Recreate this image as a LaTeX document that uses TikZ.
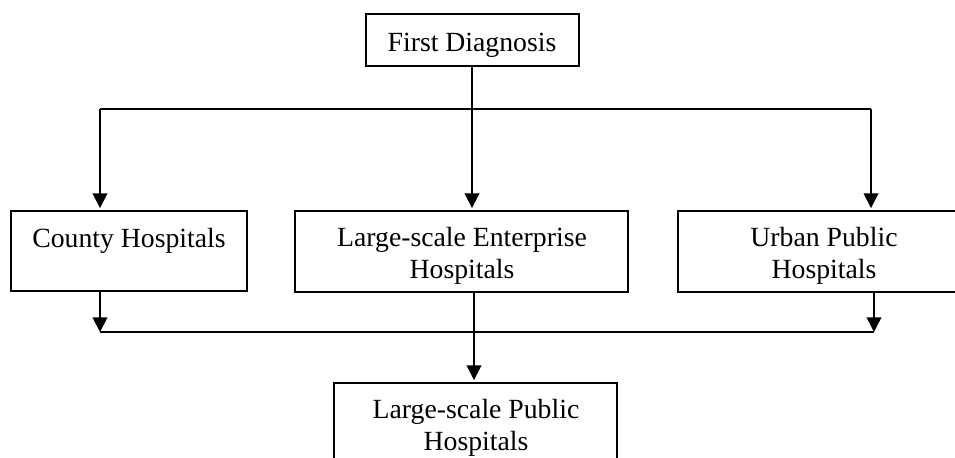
\documentclass[tikz,border=0pt]{standalone}
\usepackage{fontspec}
\setmainfont{Liberation Serif}
\usetikzlibrary{arrows.meta}
\begin{document}
\begin{tikzpicture}[x=0.75pt, y=-0.75pt,
  box/.style={draw, line width=1.3pt, inner sep=0pt, outer sep=0pt, anchor=north west},
  txt/.style={inner sep=0pt, outer sep=0pt, align=center, anchor=base,
    font=\fontsize{20.8}{23.6}\selectfont},
  link/.style={line width=1.3pt},
  arr/.style={link, -{Triangle[length=11pt, width=11pt]}, shorten >=2.2pt}]
  \useasboundingbox (0,0) rectangle (955,457);

  % boxes
  \node[box, minimum width=159.75pt, minimum height=39pt] (fd) at (366,14) {};
  \node[box, minimum width=177pt, minimum height=60pt] (county) at (11,211) {};
  \node[box, minimum width=249.75pt, minimum height=61pt] (enterprise) at (295,211) {};
  \node[box, minimum width=218.25pt, minimum height=60.75pt] (urban) at (678,211) {};
  \node[box, minimum width=212.25pt, minimum height=75pt] (public) at (334,383) {};

  % box texts (base anchor sits on the last line)
  \node[txt] (tfd) at (472,51) {First Diagnosis};
  \node[txt] (tcounty) at (129,247) {County Hospitals};
  \node[txt] (tent) at (462,278) {Large-scale Enterprise\\Hospitals};
  \node[txt] (turban) at (824,278) {Urban Public\\Hospitals};
  \node[txt] (tpub) at (476,450) {Large-scale Public\\Hospitals};

  % junctions
  \coordinate (splitL) at (100,109);
  \coordinate (splitM) at (472,109);
  \coordinate (splitR) at (871,109);
  \coordinate (outL) at (100,332);
  \coordinate (outR) at (874,332);
  \coordinate (merge) at (474,332);

  % distribution from the first diagnosis
  \draw[link] (fd.south -| splitM) -- (splitM);
  \draw[link] (splitL) -- (splitR);
  \draw[arr] (splitL) -- (splitL |- county.north);
  \draw[arr] (splitM) -- (splitM |- enterprise.north);
  \draw[arr] (splitR) -- (splitR |- urban.north);

  % referral to the large-scale public hospitals
  \draw[arr, shorten >=0pt] (outL |- county.south) -- (outL);
  \draw[arr, shorten >=0pt] (outR |- urban.south) -- (outR);
  \draw[link] (outL) -- (outR);
  \draw[arr] (merge |- enterprise.south) -- (merge |- public.north);
\end{tikzpicture}
\end{document}
